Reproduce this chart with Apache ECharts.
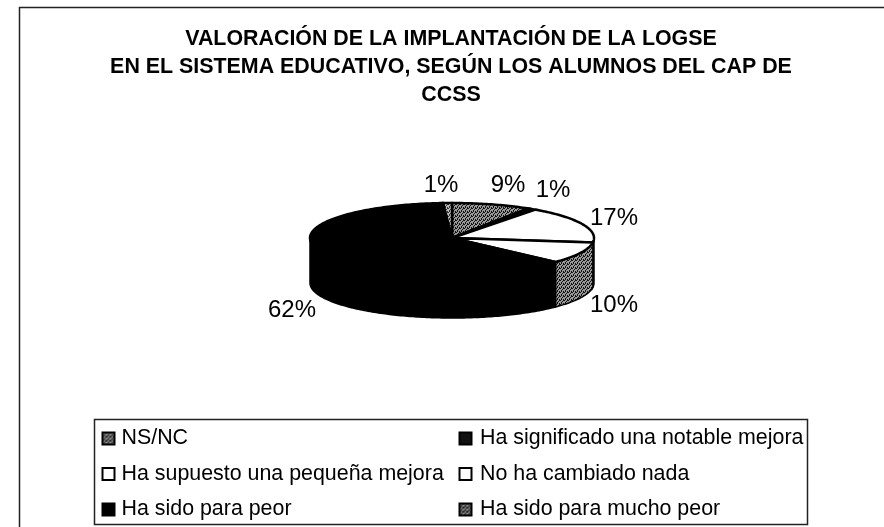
<!DOCTYPE html>
<html>
<head>
<meta charset="utf-8">
<style>
    html,body{margin:0;padding:0;background:#fff}
    #chart{width:884px;height:527px}
</style>
<script src="https://cdn.jsdelivr.net/npm/echarts@6/dist/echarts.min.js"></script>
</head>
<body>
<div id="chart"></div>
<script>
    var titleLines = [
        'VALORACIÓN DE LA IMPLANTACIÓN DE LA LOGSE',
        'EN EL SISTEMA EDUCATIVO, SEGÚN LOS ALUMNOS DEL CAP DE',
        'CCSS'
    ]
    // orden de las porciones, en sentido horario desde arriba
    var categories = ['NS/NC','Ha significado una notable mejora','Ha supuesto una pequeña mejora','No ha cambiado nada','Ha sido para peor','Ha sido para mucho peor']
    var values = [9,1,17,10,62,1]
    var leftColumn = ['NS/NC','Ha supuesto una pequeña mejora','Ha sido para peor']
    var rightColumn = ['Ha significado una notable mejora','No ha cambiado nada','Ha sido para mucho peor']

    // trama de puntos para imitar el tramado del original
    function dots(dark,light){
        var c = document.createElement('canvas')
        c.width = 4
        c.height = 4
        var ctx = c.getContext('2d')
        ctx.fillStyle = light
        ctx.fillRect(0,0,4,4)
        ctx.fillStyle = dark
        ;[[0,0],[2,1],[1,2],[3,3],[3,0],[1,3]].forEach(function(p){ ctx.fillRect(p[0],p[1],1,1) })
        return {image:c,repeat:'repeat'}
    }
    var dotted = dots('#111','#999')
    var topFill = [dotted,'#000','#fff','#fff','#000',dots('#333','#bbb')]
    var sideFill = [dotted,'#000',dotted,dotted,'#000',dotted]
    var legendFill = [dots('#111','#888'),'#111','#fff','#fff','#000',dots('#000','#888')]

    var cx = 452, cy = 238, rx = 142, ry = 35, depth = 45
    var total = values.reduce(function(a,b){return a+b},0)
    // posiciones de las etiquetas, a mano como en el original
    var labelAt = [[508,185],[553,190],[614,218],[614,305],[292,310],[441,185]]

    function point(deg,dy){
        var r = deg*Math.PI/180
        return [cx+rx*Math.sin(r),cy-ry*Math.cos(r)+(dy||0)]
    }
    function arc(from,to,dy){
        var pts = []
        for(var a=from;a<=to;a+=1) pts.push(point(a,dy))
        pts.push(point(to,dy))
        return pts
    }

    function sliceSeries(i){
        return {
            name:categories[i],
            type:'custom',
            coordinateSystem:'none',
            data:[values[i]],
            itemStyle:{color:legendFill[i],borderColor:'#000',borderWidth:2},
            renderItem:function(params,api){
                var before = 0
                for(var k=0;k<i;k++) before += values[k]
                var from = before/total*360
                var to = from+api.value(0)/total*360
                var children = []
                // pared lateral: solo la mitad delantera
                var a0 = Math.max(from,90), a1 = Math.min(to,270)
                if(a1>a0){
                    children.push({
                        type:'polygon',
                        shape:{points:arc(a0,a1,0).concat(arc(a0,a1,depth).reverse())},
                        style:{fill:sideFill[i],stroke:'#000',lineWidth:1.5}
                    })
                }
                children.push({
                    type:'polygon',
                    shape:{points:[[cx,cy]].concat(arc(from,to,0))},
                    style:{fill:topFill[i],stroke:'#000',lineWidth:2.5}
                })
                children.push({
                    type:'text',
                    style:{
                        x:labelAt[i][0],y:labelAt[i][1],
                        text:api.value(0)+'%',
                        fill:'#000',
                        font:'24px "Liberation Sans"',
                        align:'center',verticalAlign:'middle'
                    }
                })
                return {type:'group',children:children}
            }
        }
    }

    var legendStyle = {
        orient:'vertical',
        icon:'rect',
        itemWidth:12,
        itemHeight:12,
        itemGap:14.5,
        selectedMode:false,
        padding:0
    }
    var legendText = {color:'#000',fontSize:21.4,fontFamily:'Liberation Sans'}

    var myChart = echarts.init(document.getElementById('chart'))
    myChart.setOption({
        animation:false,
        title:{
            text:titleLines.join('\n'),
            left:446,
            top:20,
            textAlign:'center',
            textStyle:{color:'#000',fontFamily:'Liberation Sans',fontWeight:'bold',fontSize:21.4,lineHeight:28}
        },
        legend:[
            Object.assign({},legendStyle,{data:leftColumn,left:101.5,top:428,textStyle:Object.assign({padding:[0,0,0,2]},legendText)}),
            Object.assign({},legendStyle,{data:rightColumn,left:458.5,top:428,textStyle:Object.assign({padding:[0,0,0,3.5]},legendText)})
        ],
        graphic:[
            {type:'polyline',silent:true,shape:{points:[[884,7.5],[19.5,7.5],[19.5,527]]},style:{fill:null,stroke:'#222',lineWidth:1.5}},
            {type:'rect',silent:true,shape:{x:94.5,y:419.5,width:713,height:105},style:{fill:null,stroke:'#222',lineWidth:1.5}}
        ],
        series:categories.map(function(c,i){return sliceSeries(i)})
    })
</script>
</body>
</html>
